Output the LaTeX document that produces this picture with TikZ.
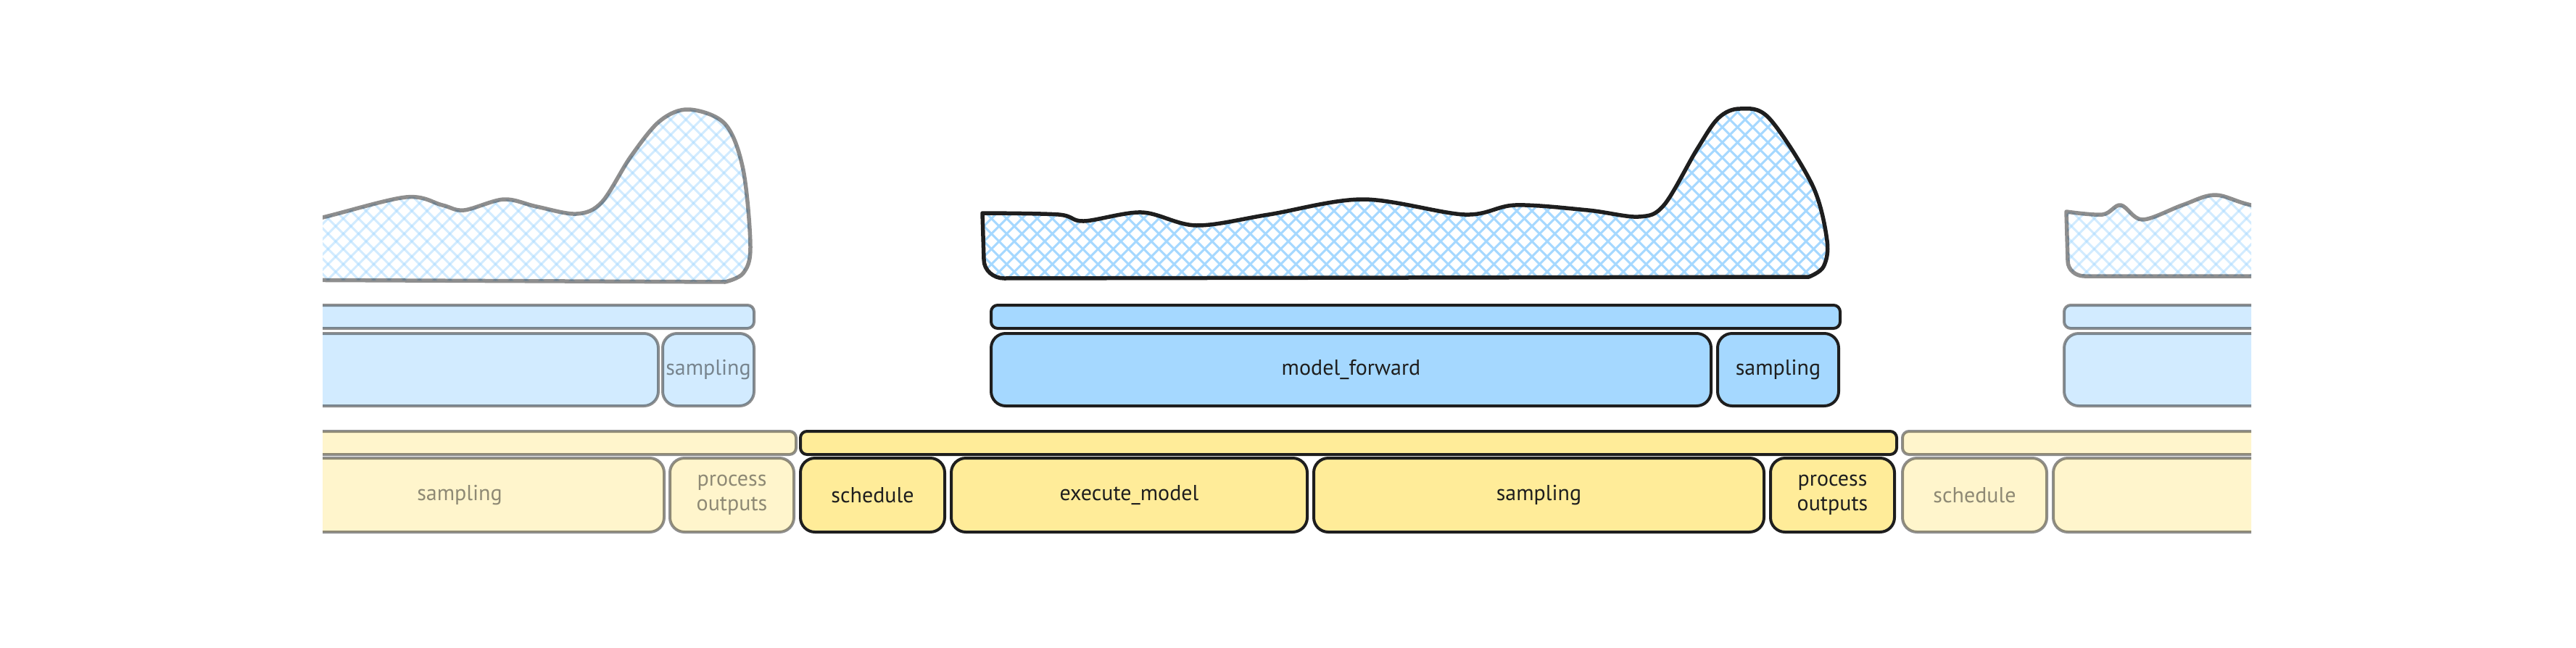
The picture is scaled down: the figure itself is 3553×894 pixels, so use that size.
\documentclass[tikz,border=0pt]{standalone}
\usepackage{fontspec}
\setmainfont{PT Sans}
\usepackage{xcolor}
\usepackage{tikz}
\usetikzlibrary{positioning}

\definecolor{ink}{HTML}{1E1E1E}
\definecolor{skyfill}{HTML}{A5D8FF}
\definecolor{sunfill}{HTML}{FFEC99}
\newcommand{\handfont}{\fontsize{30}{34}\selectfont}

\begin{document}
\begin{tikzpicture}[
  x=1pt, y=-1pt, line join=round,
  bar/.style={draw=ink, line width=4pt, rounded corners=9pt, inner sep=0pt, outer sep=0pt, minimum height=32pt, anchor=north west},
  cell/.style={draw=ink, line width=4pt, rounded corners=20pt, inner sep=0pt, outer sep=0pt, minimum height=102pt, align=center, font=\handfont, text=ink},
  sky/.style={fill=skyfill},
  sun/.style={fill=sunfill},
  blob/.style={draw=ink, line width=5.5pt},
  hatch/.style={draw=skyfill, line width=3pt},
  faded/.style={opacity=0.5},
]
\useasboundingbox (0,0) rectangle (3553,894);
\clip (445,0) rectangle (3105,894);

% outlines of the three load curves
\path[save path=\blobL] plot[smooth, tension=0.55] coordinates {(340,325) (445,300) (560,272) (610,283) (640,290) (695,275) (740,285) (795,295) (830,279) (870,216) (910,167) (950,151) (1000,171) (1025,234) (1035,341) (1025,377) (1000,389)} -- (340,386) -- cycle;
\path[save path=\blobC] plot[smooth, tension=0.55] coordinates {(1355,294) (1460,296) (1495,305) (1575,293) (1650,311) (1750,296) (1880,275) (2020,296) (2090,283) (2190,290) (2260,299) (2295,283) (2340,207) (2370,163) (2400,150) (2440,163) (2500,256) (2520,332) (2515,368) (2495,382)} -- (1385,384) to[out=180, in=270] (1357,358) -- cycle;
\path[save path=\blobR] plot[smooth, tension=0.55] coordinates {(2850,292) (2900,296) (2925,283) (2955,303) (3010,283) (3055,269) (3105,283) (3200,300)} -- (3200,381) -- (2875,381) to[out=180, in=270] (2852,360) -- cycle;

% previous step (faded)
\begin{scope}[faded]
  \begin{scope}
    \clip[use path=\blobL];
    \foreach \k in {60,81,...,1060} {
      \draw[hatch] (\k,400) -- ++(260,-260);
      \draw[hatch] (\k,140) -- ++(260,260);
    }
  \end{scope}
  \draw[blob, use path=\blobL];
  \node[bar, sky, minimum width=740pt] (bbarL) at (300,421) {};
  \node[cell, sky, minimum width=608pt, minimum height=100pt, anchor=north west] (fwdL) at (300,460) {};
  \node[cell, sky, minimum width=126pt, minimum height=100pt, right=6pt of fwdL] (bsampL) {sampling};
  \node[bar, sun, minimum width=798pt] (ybarL) at (300,595) {};
  \node[cell, sun, minimum width=564pt, anchor=north west] (sampL) at (352,632) {sampling};
  \node[cell, sun, minimum width=171pt, right=8pt of sampL] (procL) {process\\outputs};
\end{scope}

% current step
\begin{scope}
  \clip[use path=\blobC];
  \foreach \k in {1080,1101,...,2540} {
    \draw[hatch] (\k,400) -- ++(260,-260);
    \draw[hatch] (\k,140) -- ++(260,260);
  }
\end{scope}
\draw[blob, use path=\blobC];

\node[bar, sky, minimum width=1171pt] (bbarC) at (1367,421) {};
\node[cell, sky, minimum width=993pt, minimum height=100pt, anchor=north west] (fwdC) at (1367,460) {model\_forward};
\node[cell, sky, minimum width=167pt, minimum height=100pt, right=9pt of fwdC] (bsampC) {sampling};

\node[bar, sun, minimum width=1512pt] (ybarC) at (1104,595) {};
\node[cell, sun, minimum width=199pt, anchor=north west] (schedC) at (1104,632) {schedule};
\node[cell, sun, minimum width=491pt, right=9pt of schedC] (execC) {execute\_model};
\node[cell, sun, minimum width=621pt, right=9pt of execC] (sampC) {sampling};
\node[cell, sun, minimum width=171pt, right=9pt of sampC] (procC) {process\\outputs};

% next step (faded)
\begin{scope}[faded]
  \begin{scope}
    \clip[use path=\blobR];
    \foreach \k in {2580,2601,...,3220} {
      \draw[hatch] (\k,400) -- ++(260,-260);
      \draw[hatch] (\k,140) -- ++(260,260);
    }
  \end{scope}
  \draw[blob, use path=\blobR];
  \node[bar, sky, minimum width=500pt] (bbarR) at (2847,421) {};
  \node[cell, sky, minimum width=500pt, minimum height=100pt, anchor=north west] (fwdR) at (2847,460) {};
  \node[bar, sun, minimum width=700pt] (ybarR) at (2624,595) {};
  \node[cell, sun, minimum width=199pt, anchor=north west] (schedR) at (2624,632) {schedule};
  \node[cell, sun, minimum width=500pt, right=9pt of schedR] (nextR) {};
\end{scope}
\end{tikzpicture}
\end{document}
